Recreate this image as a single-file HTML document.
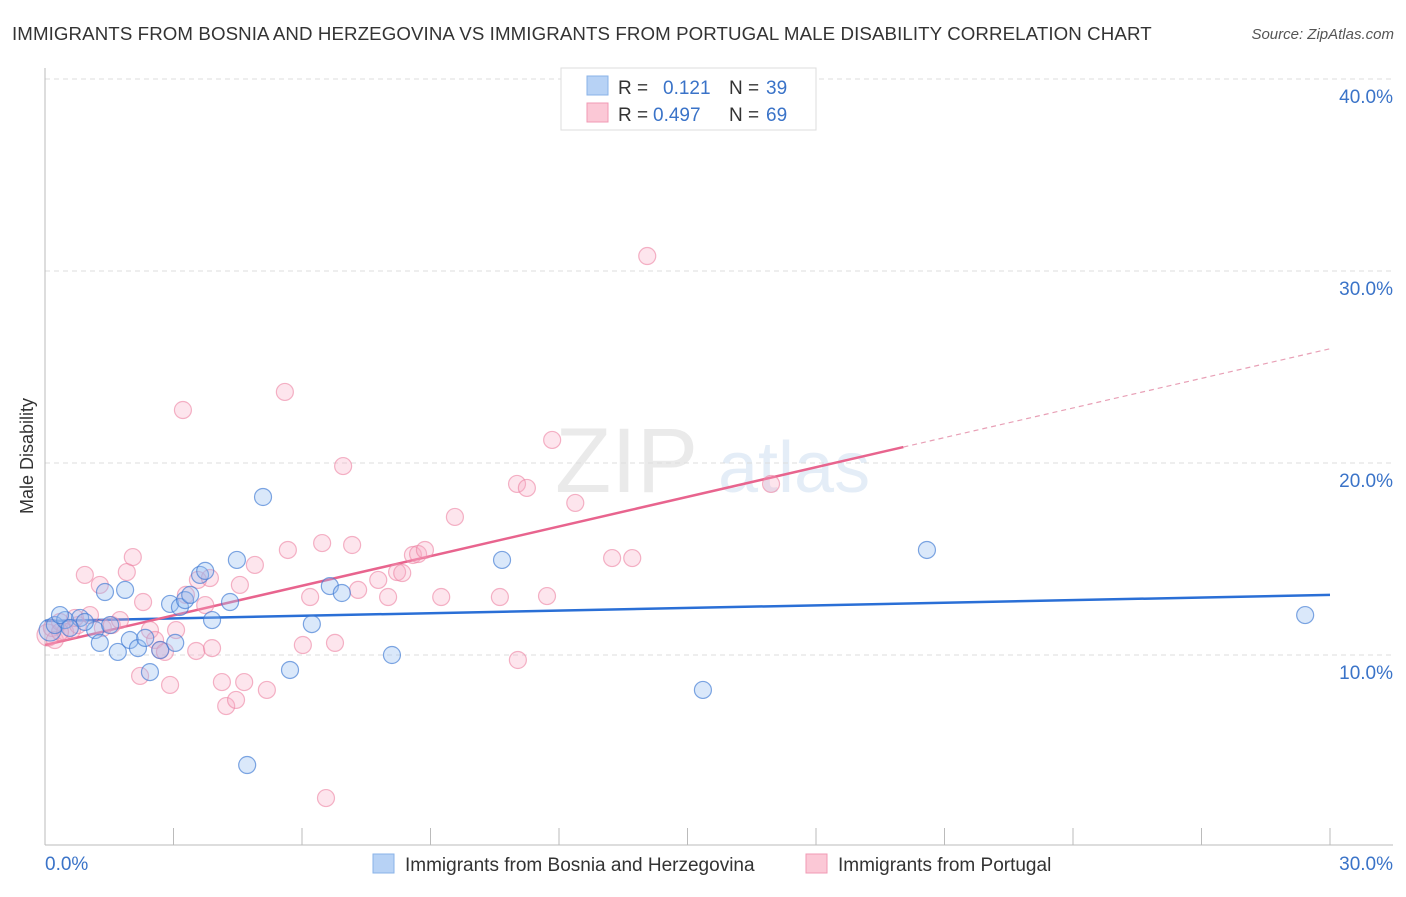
<!DOCTYPE html>
<html><head><meta charset="utf-8"><style>
body{margin:0;background:#fff;font-family:"Liberation Sans",sans-serif;}
svg text{font-family:"Liberation Sans",sans-serif;}
</style></head><body>
<svg id="chart" width="1406" height="892" xmlns="http://www.w3.org/2000/svg">
<text x="12" y="40" font-size="18.7" fill="#333" letter-spacing="0.1">IMMIGRANTS FROM BOSNIA AND HERZEGOVINA VS IMMIGRANTS FROM PORTUGAL MALE DISABILITY CORRELATION CHART</text>
<text x="1394" y="39" font-size="15" fill="#555" font-style="italic" text-anchor="end">Source: ZipAtlas.com</text>
<text transform="translate(33,456) rotate(-90)" font-size="18" fill="#333" text-anchor="middle">Male Disability</text>
<g opacity="0.2">
<text x="555" y="492" font-size="92" fill="#999" font-family="Liberation Serif">ZIP</text>
<text x="718" y="492" font-size="72" fill="#7ba7d8">atlas</text>
</g>
<g id="grid"></g><g id="axes"></g><g id="lines"></g><g id="pts"></g>
<g>
<rect x="561" y="68" width="255" height="62" fill="#fff" stroke="#ddd"/>
<rect x="587" y="76" width="21" height="19" fill="#b7d2f5" stroke="#8ab3e8"/>
<rect x="587" y="103" width="21" height="19" fill="#fbc8d6" stroke="#f09ab4"/>
<text x="618" y="94" font-size="19" fill="#333">R =</text><text x="663" y="94" font-size="19" fill="#3a73c8">0.121</text>
<text x="729" y="94" font-size="19" fill="#333">N =</text><text x="766" y="94" font-size="19" fill="#3a73c8">39</text>
<text x="618" y="121" font-size="19" fill="#333">R =</text><text x="653" y="121" font-size="19" fill="#3a73c8">0.497</text>
<text x="729" y="121" font-size="19" fill="#333">N =</text><text x="766" y="121" font-size="19" fill="#3a73c8">69</text>
</g>
<g>
<rect x="373" y="854" width="21" height="19" fill="#b7d2f5" stroke="#8ab3e8"/>
<text x="405" y="871" font-size="19" fill="#333">Immigrants from Bosnia and Herzegovina</text>
<rect x="806" y="854" width="21" height="19" fill="#fbc8d6" stroke="#f09ab4"/>
<text x="838" y="871" font-size="19" fill="#333">Immigrants from Portugal</text>
</g>
</svg>
<script>
const blueX=[0.12,0.23,0.47,0.82,1.17,1.28,1.40,1.70,1.87,1.98,2.17,2.34,2.45,2.69,2.92,3.04,3.15,3.27,3.39,3.62,3.74,3.90,4.32,4.48,4.72,5.09,5.72,6.23,6.65,6.93,8.10,10.67,15.36,20.59,29.42,0.35,0.93,0.58,1.52];
const blueY=[11.30,11.56,11.82,11.93,11.30,10.63,13.28,10.16,13.39,10.78,10.36,10.89,9.11,10.26,12.66,10.63,12.5,12.86,13.13,14.17,14.38,11.82,12.76,14.95,4.27,18.23,9.22,11.61,13.59,13.23,10.0,14.95,8.18,15.47,12.08,12.08,11.72,11.41,11.56];
const pinkX=[0.07,0.16,0.23,0.35,0.47,0.63,0.77,0.93,1.05,1.28,1.35,1.56,1.75,1.91,2.05,2.22,2.29,2.45,2.57,2.69,2.80,2.92,3.06,3.22,3.29,3.53,3.57,3.74,3.85,3.90,4.13,4.23,4.46,4.55,4.65,4.90,5.18,5.60,5.67,6.02,6.19,6.47,6.56,6.77,6.96,7.17,7.31,7.78,8.01,8.22,8.34,8.59,8.71,8.87,9.25,9.57,10.62,11.02,11.04,11.25,11.72,11.84,12.38,13.24,13.71,14.06,16.95,0.35,0.70];
const pinkY=[11.04,11.41,10.78,11.72,11.20,11.30,11.56,14.17,12.08,13.65,11.41,11.56,11.82,14.32,15.10,8.91,12.76,11.30,10.78,10.26,10.16,8.44,11.30,22.76,13.13,10.21,13.91,12.60,14.01,10.36,8.59,7.34,7.66,13.65,8.59,14.69,8.18,23.70,15.47,10.52,13.02,15.83,2.55,10.63,19.84,15.73,13.39,13.91,13.02,14.32,14.27,15.21,15.26,15.47,13.02,17.19,13.02,18.91,9.74,18.70,13.07,21.20,17.92,15.05,15.05,30.78,18.91,11.20,11.93];
const yTicks=[10,20,30,40];
const yTickLabels=["10.0%","20.0%","30.0%","40.0%"];
const blueTrend=[11.77,13.13];
const pinkTrend=[10.52,20.83,25.95];
const pinkSolidEnd=20.04;
const X=v=>45+v/30*1285, Y=v=>847-v*19.2;
const NS="http://www.w3.org/2000/svg";
function mk(p,t,a){const e=document.createElementNS(NS,t);for(const k in a)e.setAttribute(k,a[k]);p.appendChild(e);return e;}
const grid=document.getElementById('grid'),axes=document.getElementById('axes'),lines=document.getElementById('lines'),pts=document.getElementById('pts');
yTicks.forEach((t,i)=>{
 const l=mk(grid,'line',{x1:45,x2:1393,y1:Y(t),y2:Y(t),stroke:'#ddd','stroke-dasharray':'5,4'});
 
 
 const tx=mk(grid,'text',{x:1393,y:Y(t)+24,'font-size':19,fill:'#3a73c8','text-anchor':'end'});
 tx.textContent=yTickLabels[i];
 
 
});
mk(axes,'line',{x1:45,x2:45,y1:68,y2:845,stroke:'#bbb'});
mk(axes,'line',{x1:45,x2:1393,y1:845,y2:845,stroke:'#bbb'});
for(let i=0;i<=10;i++){const t=mk(axes,'line',{x1:X(i*3),x2:X(i*3),y1:828,y2:845,stroke:'#bbb'});
 
 }
const xl0=mk(axes,'text',{x:45,y:870,'font-size':19,fill:'#3a73c8'});xl0.textContent='0.0%';


const xl1=mk(axes,'text',{x:1393,y:870,'font-size':19,fill:'#3a73c8','text-anchor':'end'});xl1.textContent='30.0%';


pinkX.forEach((x,i)=>{const c=mk(pts,'circle',{cx:X(x),cy:Y(pinkY[i]),r:i==0?11:8.5,fill:'rgba(248,170,195,0.3)',stroke:'rgba(236,130,162,0.6)','stroke-width':1.2});
 
 });
blueX.forEach((x,i)=>{const c=mk(pts,'circle',{cx:X(x),cy:Y(blueY[i]),r:i==0?11:8.5,fill:'rgba(150,190,240,0.35)',stroke:'rgba(60,120,210,0.65)','stroke-width':1.2});
 
 });
const bl=mk(lines,'line',{x1:X(0),y1:Y(blueTrend[0]),x2:X(30),y2:Y(blueTrend[1]),stroke:'#2a6fd6','stroke-width':2.5});


const pl=mk(lines,'line',{x1:X(0),y1:Y(pinkTrend[0]),x2:X(pinkSolidEnd),y2:Y(pinkTrend[1]),stroke:'#e8648e','stroke-width':2.5});


const pd=mk(lines,'line',{x1:X(pinkSolidEnd),y1:Y(pinkTrend[1]),x2:X(30),y2:Y(pinkTrend[2]),stroke:'#e8a0b6','stroke-width':1.2,'stroke-dasharray':'5,4'});


</script>
</body></html>
